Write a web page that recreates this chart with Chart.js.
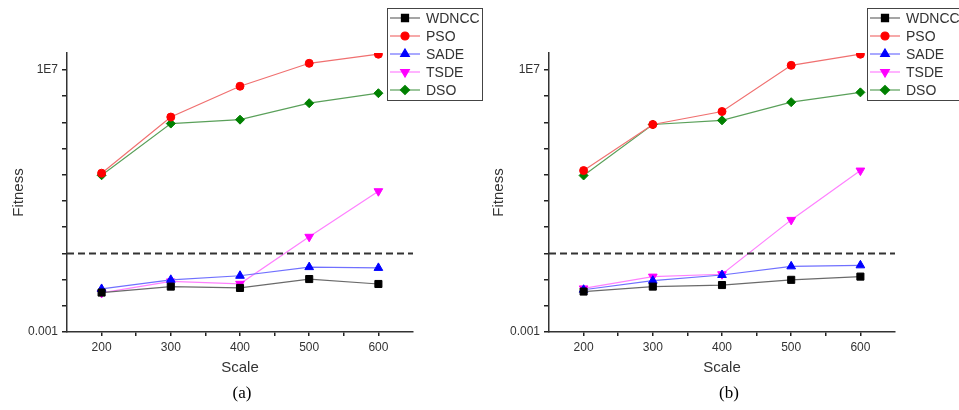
<!DOCTYPE html>
<html>
<head>
<meta charset="utf-8">
<script src="https://cdn.jsdelivr.net/npm/chart.js@4.4.1/dist/chart.umd.min.js"></script>
<style>
  html, body { margin: 0; padding: 0; background: #fff; }
  #wrap { position: relative; width: 959px; height: 410px; overflow: hidden; }
  canvas { position: absolute; top: 0; }
  #chartA { left: 0; }
  #chartB { left: 480px; }
</style>
</head>
<body>
<div id="wrap">
  <canvas id="chartA" width="484" height="410"></canvas>
  <canvas id="chartB" width="479" height="410"></canvas>
</div>
<script>
// x categories (problem scale)
const scaleX = [200, 300, 400, 500, 600];

// panel (a)
const aWDNCC = [0.032, 0.054, 0.048, 0.105, 0.068];
const aPSO   = [1150, 1.6e5, 2.4e6, 1.8e7, 4.0e7];
const aSADE  = [0.044, 0.098, 0.14, 0.30, 0.28];
const aTSDE  = [0.031, 0.085, 0.069, 4.3, 236];
const aDSO   = [960, 9.0e4, 1.27e5, 5.4e5, 1.3e6];

// panel (b)
const bWDNCC = [0.035, 0.054, 0.062, 0.098, 0.13];
const bPSO   = [1450, 8.3e4, 2.6e5, 1.5e7, 4.0e7];
const bSADE  = [0.041, 0.091, 0.15, 0.32, 0.35];
const bTSDE  = [0.046, 0.13, 0.16, 19, 1450];
const bDSO   = [940, 8.3e4, 1.2e5, 5.9e5, 1.4e6];

const thresholdY = 1;
const xRange = [150, 650];
const xTicks = [200, 250, 300, 350, 400, 450, 500, 550, 600];
const yTickExp = [-3, -2, -1, 0, 1, 2, 3, 4, 5, 6, 7];
const yLabels = { '-3': '0.001', '7': '1E7' };

const seriesNames = ['WDNCC', 'PSO', 'SADE', 'TSDE', 'DSO'];
const styles = {
    WDNCC: { point: '#000000', line: '#6a6a6a', shape: 'rect', radius: 5, rot: 0 },
    PSO:   { point: '#ff0000', line: '#f07070', shape: 'circle', radius: 4, rot: 0 },
    SADE:  { point: '#0000ff', line: '#7070ff', shape: 'triangle', radius: 5, rot: 0 },
    TSDE:  { point: '#ff00ff', line: '#ff80ff', shape: 'triangle', radius: 5, rot: 180 },
    DSO:   { point: '#008000', line: '#5aa05a', shape: 'rectRot', radius: 4.5, rot: 0 }
};

const SANS = '"Liberation Sans", Arial, sans-serif';

function makeDatasets(values) {
    const sets = seriesNames.map(function (name, i) {
        const s = styles[name];
        return {
            label: name,
            data: scaleX.map(function (x, j) { return { x: x, y: values[i][j] }; }),
            borderColor: s.line,
            borderWidth: 1.2,
            pointStyle: s.shape,
            pointRadius: s.radius,
            pointRotation: s.rot,
            pointBackgroundColor: s.point,
            pointBorderColor: s.point,
            pointBorderWidth: 1,
            tension: 0
        };
    });
    // dashed threshold line
    sets.unshift({
        label: 'threshold',
        data: [{ x: xRange[0], y: thresholdY }, { x: xRange[1], y: thresholdY }],
        borderColor: '#333',
        borderWidth: 2,
        borderDash: [7, 4],
        pointRadius: 0,
        tension: 0
    });
    return sets;
}

const panelDecor = {
    id: 'panelDecor',
    afterDraw: function (chart, args, opts) {
        const ctx = chart.ctx;
        ctx.save();
        // legend box
        const bx = 387, by = 8, bw = 95, bh = 92;
        ctx.strokeStyle = '#444';
        ctx.lineWidth = 1;
        ctx.strokeRect(bx + 0.5, by + 0.5, bw, bh);
        ctx.font = '14px ' + SANS;
        ctx.textBaseline = 'middle';
        ctx.textAlign = 'left';
        seriesNames.forEach(function (name, i) {
            const s = styles[name];
            const y = 18 + i * 18;
            ctx.strokeStyle = s.line;
            ctx.lineWidth = 1.2;
            ctx.beginPath();
            ctx.moveTo(390, y);
            ctx.lineTo(420, y);
            ctx.stroke();
            ctx.fillStyle = s.point;
            ctx.strokeStyle = s.point;
            Chart.helpers.drawPoint(ctx, { pointStyle: s.shape, radius: s.radius, rotation: s.rot, borderWidth: 1 }, 405, y);
            ctx.fillStyle = '#333';
            ctx.fillText(name, 426, y + 1);
        });
        // caption
        ctx.fillStyle = '#000';
        ctx.font = '17px "Liberation Serif", "Times New Roman", serif';
        ctx.textAlign = 'center';
        ctx.fillText(opts.caption, opts.captionX, 394);
        ctx.restore();
    }
};

function buildChart(canvasId, values, caption, left, right, captionX) {
    const canvas = document.getElementById(canvasId);
    const w = canvas.width;
    return new Chart(canvas.getContext('2d'), {
        type: 'line',
        data: { datasets: makeDatasets(values) },
        plugins: [panelDecor],
        options: {
            responsive: false,
            animation: false,
            layout: { padding: { left: 0, top: 53, right: w - right, bottom: 30 } },
            plugins: {
                legend: { display: false },
                tooltip: { enabled: false },
                panelDecor: { caption: caption, captionX: captionX }
            },
            scales: {
                x: {
                    type: 'linear',
                    min: xRange[0],
                    max: xRange[1],
                    afterFit: function (scale) { scale.height = 48; },
                    afterBuildTicks: function (scale) {
                        scale.ticks = xTicks.map(function (v) { return { value: v }; });
                    },
                    ticks: {
                        autoSkip: false,
                        maxRotation: 0,
                        padding: 4,
                        color: '#333',
                        font: { family: SANS, size: 12 },
                        callback: function (v) { return v % 100 === 0 ? String(v) : ''; }
                    },
                    grid: { drawOnChartArea: false, drawTicks: true, tickLength: 4, color: '#222', lineWidth: 1.5 },
                    border: { display: true, color: '#333', width: 1.5 },
                    title: {
                        display: true,
                        text: 'Scale',
                        color: '#333',
                        font: { family: SANS, size: 15 },
                        padding: { top: 0, bottom: 3 }
                    }
                },
                y: {
                    type: 'logarithmic',
                    min: 1e-3,
                    max: 4.45e7,
                    afterFit: function (scale) { scale.width = left; },
                    afterBuildTicks: function (scale) {
                        scale.ticks = yTickExp.map(function (e) { return { value: Math.pow(10, e) }; });
                    },
                    ticks: {
                        source: 'data',
                        autoSkip: false,
                        padding: 4,
                        color: '#333',
                        font: { family: SANS, size: 12 },
                        callback: function (v, i) { return yLabels[String(yTickExp[i])] || ''; }
                    },
                    grid: { drawOnChartArea: false, drawTicks: true, tickLength: 5, color: '#222', lineWidth: 1.5 },
                    border: { display: true, color: '#333', width: 1.5 },
                    title: {
                        display: true,
                        text: 'Fitness',
                        color: '#333',
                        font: { family: SANS, size: 15 },
                        padding: { top: 10, bottom: 0 }
                    }
                }
            }
        }
    });
}

document.addEventListener('DOMContentLoaded', function () {
    buildChart('chartA', [aWDNCC, aPSO, aSADE, aTSDE, aDSO], '(a)', 67, 413, 242);
    buildChart('chartB', [bWDNCC, bPSO, bSADE, bTSDE, bDSO], '(b)', 69, 415, 249);
});
</script>
</body>
</html>
